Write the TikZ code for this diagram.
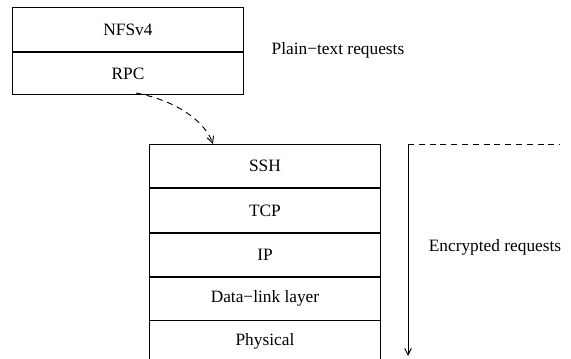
\documentclass[tikz,border=0pt]{standalone}
\usepackage{fontspec}
\setmainfont{Liberation Serif}
\usetikzlibrary{arrows.meta}
\begin{document}
\begin{tikzpicture}[x=0.75pt,y=-0.75pt,
  line width=0.7pt,
  txt/.style={font=\fontsize{13}{15}\selectfont, inner sep=0pt},
  layer/.style={draw, rectangle, minimum width=231*0.75pt, inner sep=0pt, anchor=north west, font=\fontsize{13}{15}\selectfont},
  dsh/.style={dash pattern=on 4.5pt off 3.6pt},
  tip/.style={-{Straight Barb[length=5pt,width=5pt]}}]
\useasboundingbox (0,0) rectangle (571,358);
% client stack
\node[layer, minimum height=44*0.75pt] (nfs) at (12,7) {NFSv4};
\node[layer, minimum height=42*0.75pt] (rpc) at (nfs.south west) {RPC};
% tunnel stack
\node[layer, minimum height=43*0.75pt] (ssh) at (149,144) {SSH};
\node[layer, minimum height=44*0.75pt] (tcp) at (ssh.south west) {TCP};
\node[layer, minimum height=43*0.75pt] (ip) at (tcp.south west) {IP};
\node[layer, minimum height=43*0.75pt] (dl) at (ip.south west) {Data−link layer};
\node[anchor=north west, minimum width=231*0.75pt, minimum height=41*0.75pt, inner sep=0pt,
      font=\fontsize{13}{15}\selectfont] (phy) at (dl.south west) {Physical};
\draw (phy.north west) -- (phy.south west);
\draw (phy.north east) -- (phy.south east);
% labels
\node[txt] (plain) at (338,50) {Plain−text requests};
\node[txt] (enc) at (495,247) {Encrypted requests};
% data flow
\coordinate (rpcout) at (136,93);
\coordinate (sshin) at (213,144);
\draw[dsh, tip] (rpcout) .. controls (178,101) and (205,122) .. (sshin);
\coordinate (ctop) at (408,144);
\coordinate (cend) at (560,144);
\coordinate (cbot) at (408,356);
\draw[dsh] (ctop) -- (cend);
\draw[tip] (ctop) -- (cbot);
\end{tikzpicture}
\end{document}
